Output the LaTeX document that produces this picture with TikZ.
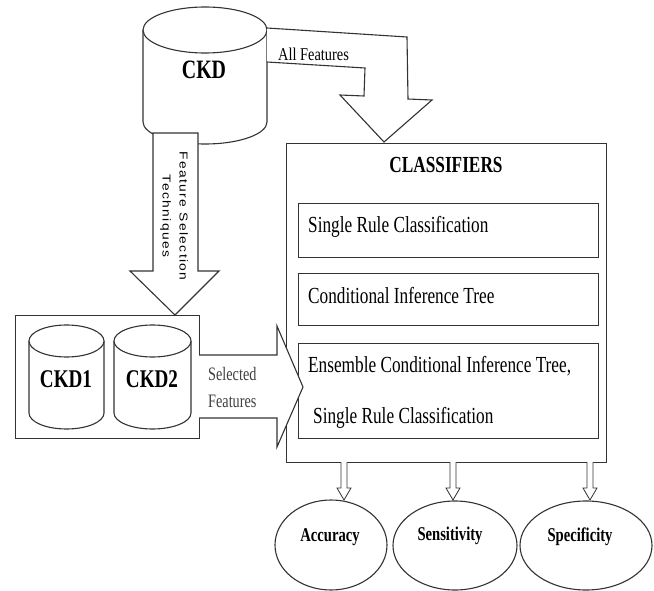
\documentclass[tikz,border=0pt]{standalone}
\usepackage{fontspec}
\setmainfont{Liberation Serif}
\newfontfamily\nserif[FakeStretch=0.75]{Liberation Serif}
\newfontfamily\lab[FakeStretch=0.8]{Liberation Serif}
\newfontfamily\fsans[FakeStretch=1.2,LetterSpace=12]{Liberation Sans}
\usetikzlibrary{shapes.geometric}
\tikzset{
  ln/.style={draw=black!80, line width=1.1pt},
  blk/.style={ln, fill=white, line join=miter},
  cyl/.style={ln, fill=white},
  box/.style={ln, rectangle, inner sep=0pt, anchor=north west},
  ell/.style={ln, ellipse, inner sep=0pt},
  txt/.style={inner sep=0pt, anchor=base west},
  ctxt/.style={inner sep=0pt, anchor=base},
  bigb/.style={font=\nserif\bfseries\fontsize{26.5}{30}\selectfont},
  midb/.style={font=\nserif\bfseries\fontsize{23}{26}\selectfont},
  reg/.style={font=\nserif\fontsize{23}{26}\selectfont},
  smb/.style={font=\nserif\bfseries\fontsize{19.5}{22}\selectfont},
  smallarrow/.style={ln, line width=0.8pt, fill=white, line join=miter}
}
\begin{document}
\begin{tikzpicture}[x=1pt,y=-1pt]
\useasboundingbox (0,0) rectangle (654,591);

% CKD cylinder
\path[cyl] (143,30) -- (143,122) arc[start angle=180, end angle=0, x radius=62, y radius=22] -- (267,30);
\path[cyl] (205,30) ellipse [x radius=62, y radius=23];
\node[bigb, ctxt] (ckd) at (204,79) {CKD};

% All Features arrow
\path[blk] (267,28) -- (407,37) -- (408,99) -- (432,100) -- (384,142) -- (340,95) -- (364,96) -- (365,68) -- (267,62);
\node[txt, font=\lab\fontsize{18}{20}\selectfont] (allf) at (278,61) {All Features};

% Feature selection arrow
\path[blk] (153,133) -- (198,133) -- (198,271) -- (219,271) -- (175,315) -- (130,271) -- (153,271) -- cycle;
\node[rotate=-90, align=center, inner sep=0pt, font=\fsans\fontsize{11.5}{17}\selectfont] (fst) at (174,216) {Feature Selection\\Techniques};

% CKD1 / CKD2 box
\node[box, minimum width=184pt, minimum height=123pt] (dbox) at (15,315) {};
\path[cyl] (29,341) -- (29,413) arc[start angle=180, end angle=0, x radius=37.5, y radius=16] -- (104,341);
\path[cyl] (66.5,341) ellipse [x radius=37.5, y radius=16];
\path[cyl] (114,341) -- (114,413) arc[start angle=180, end angle=0, x radius=38.5, y radius=16] -- (191,341);
\path[cyl] (152.5,341) ellipse [x radius=38.5, y radius=16];
\node[bigb, ctxt, font=\nserif\bfseries\fontsize{25.5}{28}\selectfont] (ckd1) at (66,387) {CKD1};
\node[bigb, ctxt, font=\nserif\bfseries\fontsize{25.5}{28}\selectfont] (ckd2) at (152,387) {CKD2};

% Classifiers box
\node[box, minimum width=320pt, minimum height=319pt] (cls) at (286,143) {};
\node[midb, ctxt] (clst) at (446,173) {CLASSIFIERS};
\node[box, minimum width=300pt, minimum height=54pt] (c1) at (298,203) {};
\node[box, minimum width=300pt, minimum height=52pt] (c2) at (298,273) {};
\node[box, minimum width=300pt, minimum height=95pt] (c3) at (298,343) {};
\node[reg, txt] (t1) at (308,233) {Single Rule Classification};
\node[reg, txt] (t2) at (308,303) {Conditional Inference Tree};
\node[reg, txt] (t3) at (308,372) {Ensemble Conditional Inference Tree,};
\node[reg, txt] (t4) at (313,423) {Single Rule Classification};

% Selected features arrow
\path[blk] (199,355) -- (277,355) -- (277,326) -- (303,387) -- (277,447) -- (277,418) -- (199,418);
\node[txt, text=black!75, font=\nserif\fontsize{19}{22}\selectfont] (sel1) at (208,380) {Selected};
\node[txt, text=black!75, font=\nserif\fontsize{19}{22}\selectfont] (sel2) at (208,407) {Features};

% Outcome ellipses
\node[ell, minimum width=112pt, minimum height=90pt] (acc) at (331,545) {};
\node[ell, minimum width=124pt, minimum height=89pt] (sen) at (455,545.5) {};
\node[ell, minimum width=132pt, minimum height=89pt] (spe) at (586,545.5) {};
\node[smb, ctxt] (acct) at (330,541) {Accuracy};
\node[smb, ctxt] (sent) at (450,540) {Sensitivity};
\node[smb, ctxt] (spet) at (580,541) {Specificity};

% Small arrows
\foreach \cx in {344,453,590}{
  \path[smallarrow] (\cx-3,462) -- (\cx-3,488) -- (\cx-7,488) -- (\cx,500) -- (\cx+7,488) -- (\cx+3,488) -- (\cx+3,462);
}
\end{tikzpicture}
\end{document}
